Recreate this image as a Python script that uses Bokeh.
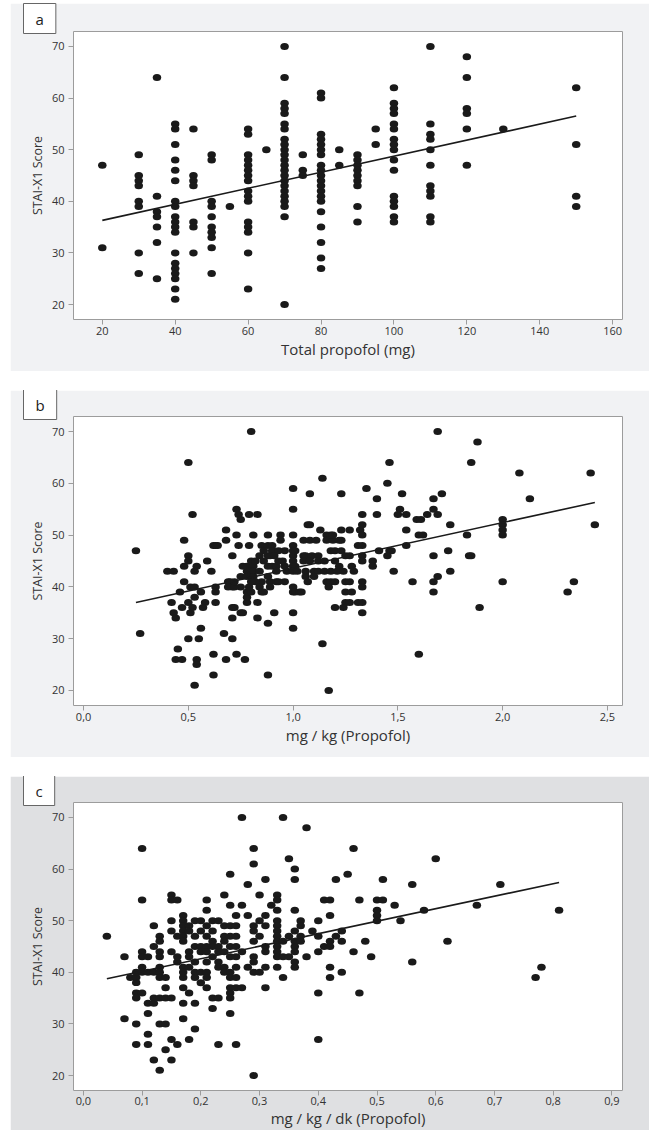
from bokeh.plotting import figure
from bokeh.models import Range1d, FixedTicker, CustomJSTickFormatter
from bokeh.layouts import column
from bokeh.embed import file_html
from bokeh.resources import INLINE

# ---------------- data ----------------
# Panel a: total propofol dose (mg) groups and STAI-X1 scores in each group
a_doses = [20, 30, 35, 40, 45, 50, 55, 60, 65, 70, 75, 80, 85, 90, 95, 100, 110, 120, 130, 150]
a_scores = [
    [47, 31],
    [49, 45, 44, 43, 40, 39, 30, 26],
    [64, 41, 38, 37, 35, 32, 25],
    [55, 54, 51, 48, 46, 44, 40, 39, 37, 36, 35, 34, 30, 28, 27, 26, 25, 23, 21],
    [54, 45, 44, 43, 36, 35, 30],
    [49, 48, 40, 39, 37, 35, 34, 33, 31, 26],
    [39],
    [54, 53, 49, 48, 47, 46, 45, 44, 42, 41, 40, 36, 35, 34, 30, 23],
    [50],
    [70, 64, 59, 58, 57, 55, 54, 52, 51, 50, 49, 48, 47, 46, 45, 44, 43, 42, 41, 40, 39, 37, 20],
    [49, 46, 45],
    [61, 60, 53, 52, 51, 50, 49, 47, 46, 45, 44, 43, 42, 41, 40, 38, 35, 32, 29, 27],
    [50, 47],
    [49, 48, 47, 46, 45, 44, 43, 39, 36],
    [54, 51],
    [62, 59, 58, 57, 55, 54, 52, 51, 50, 48, 46, 41, 40, 39, 37, 36],
    [70, 55, 53, 52, 50, 47, 43, 42, 41, 37, 36],
    [68, 64, 58, 57, 54, 47],
    [54],
    [62, 51, 41, 39],
]
a_fit = (33.2, 0.1554)   # intercept, slope

# Panel b: mg/kg
b_x = [0.25, 0.27, 0.40, 0.43, 0.42, 0.43, 0.44, 0.46, 0.45, 0.44, 0.47, 0.48, 0.48, 0.50, 0.50, 0.50, 0.52,
       0.48, 0.51, 0.53, 0.50, 0.52, 0.51, 0.47, 0.53, 0.50, 0.53, 0.54, 0.55, 0.56, 0.54, 0.54, 0.53, 0.56,
       0.58, 0.57, 0.59, 0.61, 0.62, 0.63, 0.63, 0.63, 0.63, 0.62, 0.62, 0.67, 0.68, 0.68, 0.68, 0.69, 0.70,
       0.71, 0.71, 0.71, 0.71, 0.71, 0.73, 0.74, 0.75, 0.73, 0.74, 0.73, 0.75, 0.75, 0.76, 0.77, 0.75, 0.78,
       0.78, 0.78, 0.80, 0.79, 0.83, 0.81, 0.79,
       0.78, 0.80, 0.81, 0.82, 0.78, 0.80, 0.81, 0.78, 0.80, 0.81, 0.80, 0.83, 0.83, 0.85, 0.85, 0.88, 0.85,
       0.88, 0.90, 0.88, 0.88, 0.91, 0.88, 0.89, 0.89, 0.92, 0.89, 0.94, 0.94, 0.96,
       0.76, 0.84, 0.88, 0.90, 0.92, 0.93, 0.96, 0.97, 0.92, 0.88, 0.96, 0.86, 0.90, 0.93, 0.84, 0.86, 0.91,
       0.95, 0.82, 0.84, 0.86, 0.79, 0.93, 0.64, 0.69, 0.72, 0.72, 0.80, 0.72,
       1.00, 1.00, 1.00, 1.00, 1.00, 1.00, 1.00, 1.00, 1.00, 1.00, 1.00, 1.00, 1.00, 1.01, 1.01, 1.02, 1.01, 1.03,
       1.07, 1.08, 1.08, 1.14, 1.14, 1.17, 1.13, 1.16, 1.05, 1.08, 1.11, 1.16, 1.19, 1.22, 1.23, 1.18, 1.19,
       1.23, 1.27, 1.32, 1.33, 1.23, 1.33, 1.33, 1.33, 1.33, 1.33, 1.33, 1.33, 1.33, 1.33,
       1.05, 1.06, 1.09, 1.12, 1.18, 1.20, 1.23, 1.25, 1.27,
       1.05, 1.08, 1.12, 1.15, 1.20, 1.22, 1.28,
       1.06, 1.10, 1.12, 1.15, 1.18, 1.21, 1.24, 1.29,
       1.06, 1.10, 1.07, 1.16, 1.18, 1.25, 1.27, 1.20,
       1.04, 1.17, 1.25, 1.28, 1.25, 1.27, 1.20, 1.24, 1.31, 1.31,
       1.46, 1.45, 1.35, 1.52, 1.67, 1.71, 1.40, 1.40, 1.50, 1.51, 1.54, 1.59, 1.61, 1.64, 1.67, 1.69, 1.75,
       1.54, 1.60, 1.62, 1.54, 1.41, 1.46, 1.47, 1.45, 1.67, 1.74, 1.48, 1.75, 1.69, 1.57, 1.67, 1.67, 1.60,
       1.69, 1.88, 1.85, 2.08, 2.42, 2.13, 2.00, 2.00, 2.00, 2.00, 2.44, 1.83, 1.84, 1.85, 1.38, 1.38, 2.00,
       2.34, 2.31, 1.89]
b_y = [47, 31, 43, 43, 37, 35, 34, 39, 28, 26, 26, 49, 44, 46, 45, 64, 54,
       41, 40, 40, 37, 36, 35, 36, 38, 30, 43, 44, 30, 32, 26, 25, 21, 39,
       37, 36, 45, 43, 48, 48, 40, 39, 37, 27, 23, 31, 26, 51, 49, 41, 41,
       40, 46, 36, 34, 30, 55, 54, 53, 50, 48, 27, 40, 35, 35, 26, 42, 37,
       38, 39, 70, 54, 54, 50, 48,
       44, 45, 44, 45, 43, 43, 43, 42, 42, 42, 39, 37, 34, 41, 39, 50, 48,
       48, 48, 33, 23, 35, 46, 46, 41, 41, 40, 50, 49, 41,
       44, 43, 44, 44, 44, 45, 44, 43, 43, 42, 47, 47, 47, 47, 46, 45, 46,
       45, 41, 40, 39, 40, 41, 48, 40, 40, 41, 41, 36,
       59, 55, 50, 48, 47, 46, 45, 44, 43, 40, 39, 35, 32, 47, 44, 43, 39, 39,
       52, 52, 58, 61, 29, 20, 51, 50, 49, 49, 49, 49, 49, 49, 49, 50, 50,
       51, 51, 51, 52, 58, 54, 50, 48, 46, 45, 41, 40, 37, 35,
       46, 46, 46, 46, 47, 47, 47, 46, 46,
       45, 45, 45, 45, 45, 44, 44,
       43, 43, 43, 43, 43, 43, 43, 43,
       42, 42, 41, 41, 41, 41, 41, 41,
       39, 40, 39, 39, 37, 37, 36, 36, 37, 48,
       64, 60, 59, 58, 57, 58, 57, 54, 54, 55, 54, 53, 53, 54, 55, 54, 52,
       51, 50, 50, 48, 47, 47, 47, 46, 46, 47, 43, 43, 42, 41, 41, 39, 27,
       70, 68, 64, 62, 62, 57, 53, 52, 51, 50, 52, 50, 46, 46, 45, 44, 41,
       41, 39, 36]
b_fit = (34.8, 8.81)

# Panel c: mg/kg/min
c_x = [0.04, 0.07, 0.07, 0.08, 0.09, 0.09, 0.09, 0.09, 0.09, 0.09, 0.09, 0.10, 0.10, 0.10, 0.10, 0.10, 0.10,
       0.10, 0.11, 0.11, 0.11, 0.12, 0.11, 0.11, 0.11, 0.12, 0.12, 0.12, 0.12, 0.12, 0.13, 0.13, 0.13, 0.13,
       0.13, 0.13, 0.13, 0.13, 0.13, 0.14, 0.13, 0.14, 0.14, 0.14, 0.15, 0.14, 0.15, 0.15, 0.15, 0.15, 0.15,
       0.15, 0.15, 0.16, 0.16, 0.16, 0.16, 0.16, 0.17, 0.17, 0.17, 0.17, 0.17, 0.17, 0.17, 0.17, 0.17, 0.17,
       0.17, 0.17, 0.18, 0.18, 0.18, 0.18, 0.18, 0.18, 0.18, 0.19, 0.19, 0.19, 0.19, 0.19, 0.19, 0.19, 0.19,
       0.20, 0.20, 0.20, 0.20, 0.20, 0.20, 0.21, 0.21, 0.21, 0.21, 0.21, 0.21, 0.21, 0.21, 0.21, 0.21, 0.22,
       0.22, 0.22, 0.22, 0.22, 0.22, 0.22, 0.23, 0.23, 0.23, 0.23, 0.23, 0.23, 0.23, 0.24, 0.24, 0.24, 0.24,
       0.24, 0.24, 0.24, 0.25, 0.25, 0.25, 0.25, 0.25, 0.25, 0.25, 0.25, 0.25, 0.25, 0.25, 0.25, 0.26, 0.26,
       0.26, 0.26, 0.26, 0.26, 0.26, 0.26, 0.26, 0.27, 0.27, 0.27, 0.27, 0.28, 0.28, 0.28, 0.29, 0.29, 0.29,
       0.29, 0.29, 0.29, 0.29, 0.29, 0.29, 0.30, 0.30, 0.30, 0.30, 0.31, 0.31, 0.31, 0.31, 0.31, 0.31, 0.31,
       0.32, 0.33, 0.33, 0.33, 0.33, 0.33, 0.33, 0.33, 0.33, 0.33, 0.33, 0.33, 0.33, 0.34, 0.34, 0.34, 0.34,
       0.35, 0.35, 0.35, 0.36, 0.36, 0.36, 0.36, 0.36, 0.36, 0.36, 0.36, 0.36, 0.37, 0.37, 0.37, 0.37, 0.38,
       0.38, 0.39, 0.40, 0.40, 0.40, 0.40, 0.40, 0.41, 0.42, 0.41, 0.42, 0.42, 0.42, 0.42,
       0.46, 0.60, 0.45, 0.43, 0.51, 0.56, 0.71, 0.47, 0.50, 0.51, 0.53, 0.50, 0.50, 0.50, 0.58, 0.67, 0.81,
       0.54, 0.44, 0.43, 0.42, 0.44, 0.48, 0.62, 0.46, 0.49, 0.56, 0.44, 0.78, 0.77, 0.47]
c_y = [47, 43, 31, 39, 39, 40, 38, 36, 35, 30, 26, 64, 54, 44, 43, 41, 40,
       36, 43, 40, 34, 34, 32, 28, 26, 49, 45, 40, 35, 23, 47, 46, 44, 43,
       41, 40, 39, 35, 30, 30, 21, 39, 37, 35, 35, 25, 55, 54, 50, 48, 44,
       27, 23, 54, 26, 47, 42, 43, 51, 50, 49, 48, 47, 46, 41, 40, 39, 37,
       34, 31, 49, 48, 44, 43, 41, 36, 27, 50, 47, 45, 42, 40, 39, 34, 29,
       50, 48, 45, 44, 40, 38, 54, 52, 49, 47, 45, 44, 42, 40, 39, 37, 50,
       48, 46, 45, 43, 35, 33, 50, 45, 44, 42, 41, 35, 26, 55, 49, 47, 46,
       44, 41, 40, 59, 53, 49, 47, 45, 43, 40, 39, 37, 36, 35, 32, 51, 49,
       47, 45, 43, 41, 39, 37, 26, 70, 53, 44, 37, 57, 51, 41, 64, 61, 49,
       48, 46, 43, 42, 40, 20, 55, 50, 47, 40, 58, 51, 49, 45, 44, 41, 37,
       53, 55, 54, 52, 50, 49, 48, 47, 46, 45, 44, 43, 41, 70, 46, 43, 39,
       62, 47, 43, 60, 58, 52, 48, 46, 45, 44, 42, 41, 50, 49, 47, 46, 68,
       43, 48, 50, 47, 44, 36, 27, 54, 54, 45, 51, 46, 41, 39,
       64, 62, 59, 58, 58, 57, 57, 54, 54, 54, 53, 52, 51, 50, 52, 53, 52,
       50, 48, 47, 45, 46, 46, 46, 44, 43, 42, 40, 41, 39, 36]
c_fit = (37.8, 24.2)

y_ticks = [20, 30, 40, 50, 60, 70]
a_ticks = [20, 40, 60, 80, 100, 120, 140, 160]
b_ticks = [0.0, 0.5, 1.0, 1.5, 2.0, 2.5]
c_ticks = [0.0, 0.1, 0.2, 0.3, 0.4, 0.5, 0.6, 0.7, 0.8, 0.9]

a_x = [d for d, grp in zip(a_doses, a_scores) for _ in grp]
a_y = [s for grp in a_scores for s in grp]

FONT = "Open Sans"
TXT = "#333333"
GRAY = "#9c9c9c"
W = 639
LEFT, RIGHT = 63, 27
Y_RANGE = (17.1, 72.9)
PADX, PADY = 12, 5


def panel(letter, xs, ys, fit, xr, xticks, xlabel, comma, height, top, bottom, bg, mtop,
          tick_sd=2, label_sd=1):
    p = figure(width=W, height=height, x_range=Range1d(*xr), y_range=Range1d(*Y_RANGE),
               output_backend="svg", toolbar_location=None,
               min_border_left=LEFT, min_border_right=RIGHT, min_border_top=top, min_border_bottom=bottom,
               border_fill_color=bg, background_fill_color="white",
               outline_line_color=GRAY, outline_line_width=1,
               margin=(mtop, 0, 0, 10))
    p.xgrid.visible = False
    p.ygrid.visible = False
    p.xaxis.ticker = FixedTicker(ticks=xticks)
    p.yaxis.ticker = FixedTicker(ticks=y_ticks)
    if comma:
        p.xaxis.formatter = CustomJSTickFormatter(code="return tick.toFixed(1).replace('.', ',');")
    for ax in (p.xaxis, p.yaxis):
        ax.axis_line_color = None
        ax.major_tick_in = 0
        ax.major_tick_out = 5
        ax.major_tick_line_color = GRAY
        ax.minor_tick_line_color = None
        ax.major_label_text_font = FONT
        ax.major_label_text_font_size = "11px"
        ax.major_label_text_color = TXT
        ax.axis_label_text_font = FONT
        ax.axis_label_text_font_style = "normal"
        ax.axis_label_text_color = TXT
    p.xaxis.axis_label = xlabel
    p.xaxis.axis_label_text_font_size = "15px"
    p.xaxis.major_label_standoff = tick_sd
    p.xaxis.axis_label_standoff = label_sd
    p.yaxis.axis_label = "STAI-X1 Score"
    p.yaxis.axis_label_text_font_size = "12.5px"
    p.yaxis.major_label_standoff = 4
    p.yaxis.axis_label_standoff = 3

    p.ellipse(x=xs, y=ys, width=8.5, height=7, width_units="screen", height_units="screen",
              fill_color="#1a1a1a", line_color=None)
    x0, x1 = min(xs), max(xs)
    a, b = fit
    p.line(x=[x0, x1], y=[a + b * x0, a + b * x1], line_color="#1a1a1a", line_width=1.6)

    # panel letter in a white box (title slot, shifted to the panel's top-left corner)
    t = p.title
    t.text = letter
    t.align = "left"
    t.vertical_align = "bottom"
    t.offset = 1 + PADX - LEFT
    t.text_font = FONT
    t.text_font_size = "15px"
    t.text_font_style = "normal"
    t.text_color = "#222222"
    t.background_fill_color = "white"
    t.border_line_color = "#666666"
    t.border_line_width = 1
    try:
        t.standoff = top - 32
        t.padding = dict(x=PADX, y=PADY)
    except Exception:
        t.standoff = 0
        t.padding = 3
    return p


fa = panel("a", a_x, a_y, a_fit, (12.1, 162.7), a_ticks, "Total propofol (mg)", False,
           368, 28, 52, "#f1f2f4", 3)
fb = panel("b", b_x, b_y, b_fit, (-0.048, 2.572), b_ticks, "mg / kg (Propofol)", True,
           367, 26, 52, "#f1f2f4", 19)
fc = panel("c", c_x, c_y, c_fit, (-0.0168, 0.918), c_ticks, "mg / kg / dk (Propofol)", True,
           354, 26, 38, "#dfe0e2", 19, tick_sd=1, label_sd=0)

layout = column(fa, fb, fc)
open("out.html", "w").write(file_html(layout, INLINE))
